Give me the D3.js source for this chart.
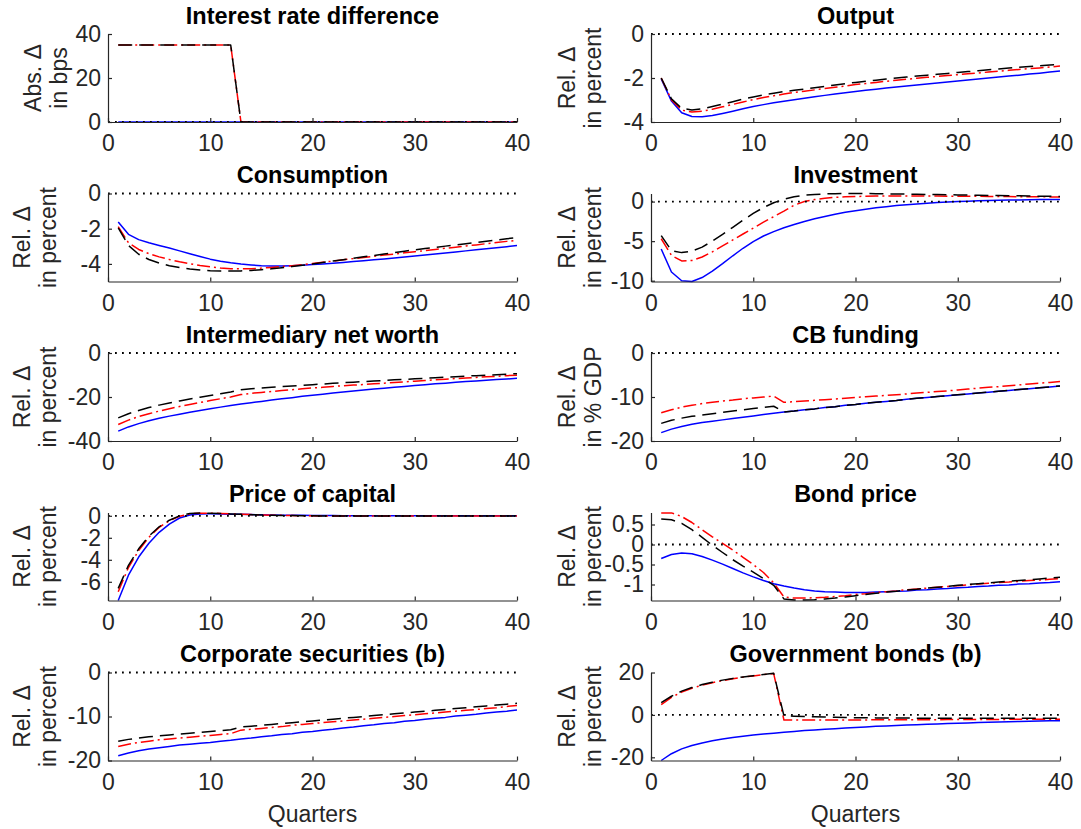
<!DOCTYPE html>
<html>
<head>
<meta charset="utf-8">
<script src="https://cdn.jsdelivr.net/npm/d3@7"></script>
<style>
  body { margin: 0; background: #fff; }
  svg text { font-family: "Liberation Sans", Arial, Helvetica, sans-serif; }
</style>
</head>
<body>
<svg id="fig" width="1081" height="829"></svg>
<script>
// ---- data -------------------------------------------------------------
const quarters = [1,2,3,4,5,6,7,8,9,10,11,12,13,14,15,16,17,18,19,20,
                  21,22,23,24,25,26,27,28,29,30,31,32,33,34,35,36,37,38,39,40];

const titles = ["Interest rate difference", "Output", "Consumption", "Investment",
                "Intermediary net worth", "CB funding", "Price of capital", "Bond price",
                "Corporate securities (b)", "Government bonds (b)"];

const yLabels = [["Abs. \u0394", "in bps"], ["Rel. \u0394", "in percent"],
                 ["Rel. \u0394", "in percent"], ["Rel. \u0394", "in percent"],
                 ["Rel. \u0394", "in percent"], ["Rel. \u0394", "in % GDP"],
                 ["Rel. \u0394", "in percent"], ["Rel. \u0394", "in percent"],
                 ["Rel. \u0394", "in percent"], ["Rel. \u0394", "in percent"]];

const yLimits = [[0, 40], [-4, 0], [-5, 0], [-10.1, 1.02], [-40, 0],
                 [-20, 0], [-7.7, 0.3], [-1.4, 0.8], [-20, 0], [-21.5, 20]];

const yTickValues = [[0, 20, 40], [-4, -2, 0], [-4, -2, 0], [-10, -5, 0], [-40, -20, 0],
                     [-20, -10, 0], [-6, -4, -2, 0], [-1, -0.5, 0, 0.5], [-20, -10, 0], [-20, 0, 20]];

const xTickValues = [0, 10, 20, 30, 40];
const xLabel = "Quarters";

// interest rate difference
const rateSolid = [0,0,0,0,0,0,0,0,0,0, 0,0,0,0,0,0,0,0,0,0, 0,0,0,0,0,0,0,0,0,0, 0,0,0,0,0,0,0,0,0,0];
const rateDashed = [35,35,35,35,35,35,35,35,35,35, 35,35,0,0,0,0,0,0,0,0, 0,0,0,0,0,0,0,0,0,0, 0,0,0,0,0,0,0,0,0,0];
const rateDashDot = [35,35,35,35,35,35,35,35,35,35, 35,35,0,0,0,0,0,0,0,0, 0,0,0,0,0,0,0,0,0,0, 0,0,0,0,0,0,0,0,0,0];

// output
const outputSolid = [-2.04,-3.05,-3.58,-3.75,-3.76,-3.70,-3.61,-3.51,-3.40,-3.30, -3.21,-3.13,-3.06,-2.99,-2.92,-2.85,-2.79,-2.73,-2.67,-2.61, -2.56,-2.51,-2.46,-2.41,-2.36,-2.32,-2.27,-2.23,-2.18,-2.14, -2.09,-2.05,-2.00,-1.96,-1.91,-1.87,-1.82,-1.78,-1.73,-1.68];
const outputDashed = [-2.00,-2.95,-3.38,-3.45,-3.40,-3.30,-3.19,-3.08,-2.96,-2.86, -2.77,-2.69,-2.62,-2.56,-2.50,-2.44,-2.38,-2.32,-2.26,-2.20, -2.15,-2.10,-2.05,-2.00,-1.96,-1.91,-1.87,-1.83,-1.79,-1.75, -1.71,-1.67,-1.63,-1.59,-1.55,-1.51,-1.48,-1.44,-1.41,-1.37];
const outputDashDot = [-2.00,-3.00,-3.46,-3.55,-3.51,-3.42,-3.31,-3.20,-3.09,-2.98, -2.89,-2.81,-2.73,-2.66,-2.60,-2.54,-2.48,-2.42,-2.36,-2.30, -2.25,-2.20,-2.15,-2.10,-2.06,-2.01,-1.97,-1.93,-1.89,-1.85, -1.81,-1.77,-1.73,-1.69,-1.65,-1.61,-1.57,-1.54,-1.50,-1.46];

// consumption
const consumptionSolid = [-1.62,-2.32,-2.62,-2.80,-2.95,-3.10,-3.26,-3.42,-3.58,-3.73, -3.85,-3.94,-4.01,-4.06,-4.10,-4.12,-4.12,-4.10,-4.07,-4.04, -4.00,-3.96,-3.92,-3.87,-3.82,-3.77,-3.72,-3.67,-3.61,-3.55, -3.50,-3.44,-3.38,-3.32,-3.26,-3.20,-3.14,-3.08,-3.02,-2.96];
const consumptionDashed = [-1.95,-2.95,-3.45,-3.75,-3.95,-4.10,-4.21,-4.29,-4.35,-4.39, -4.41,-4.41,-4.40,-4.37,-4.33,-4.28,-4.22,-4.15,-4.08,-4.01, -3.92,-3.84,-3.76,-3.68,-3.60,-3.52,-3.44,-3.36,-3.28,-3.20, -3.13,-3.06,-2.99,-2.92,-2.85,-2.78,-2.71,-2.64,-2.57,-2.51];
const consumptionDashDot = [-1.88,-2.80,-3.18,-3.42,-3.60,-3.75,-3.88,-3.99,-4.09,-4.17, -4.23,-4.27,-4.28,-4.27,-4.24,-4.20,-4.15,-4.10,-4.04,-3.98, -3.91,-3.84,-3.77,-3.70,-3.64,-3.57,-3.50,-3.44,-3.37,-3.31, -3.24,-3.18,-3.11,-3.05,-2.98,-2.92,-2.85,-2.79,-2.72,-2.66];

// investment
const investmentSolid = [-6.0,-8.9,-10.0,-10.1,-9.6,-8.8,-7.85,-6.85,-5.9,-5.05, -4.35,-3.8,-3.3,-2.9,-2.52,-2.18,-1.88,-1.6,-1.36,-1.15, -0.96,-0.79,-0.64,-0.51,-0.40,-0.30,-0.21,-0.13,-0.06,0.0, 0.05,0.09,0.13,0.16,0.19,0.21,0.23,0.25,0.26,0.27];
const investmentDashed = [-4.3,-6.2,-6.45,-6.25,-5.75,-5.0,-4.15,-3.25,-2.35,-1.5, -0.75,-0.15,0.3,0.6,0.8,0.9,0.97,1.0,1.01,1.02, 1.01,1.0,0.98,0.96,0.94,0.92,0.9,0.88,0.86,0.84, 0.82,0.8,0.78,0.76,0.74,0.72,0.7,0.68,0.66,0.64];
const investmentDashDot = [-4.7,-6.8,-7.5,-7.45,-7.0,-6.35,-5.6,-4.85,-4.1,-3.35, -2.6,-1.9,-1.2,-0.45,0.0,0.25,0.42,0.53,0.6,0.64, 0.67,0.69,0.7,0.7,0.7,0.7,0.69,0.69,0.68,0.67, 0.66,0.66,0.65,0.64,0.63,0.62,0.61,0.6,0.59,0.58];

// intermediary net worth
const netWorthSolid = [-35.5,-33.6,-32.1,-30.8,-29.7,-28.7,-27.8,-26.9,-26.1,-25.3, -24.6,-23.9,-23.2,-22.6,-22.0,-21.4,-20.8,-20.3,-19.7,-19.2, -18.7,-18.2,-17.7,-17.3,-16.8,-16.4,-16.0,-15.6,-15.2,-14.8, -14.4,-14.0,-13.7,-13.3,-13.0,-12.7,-12.4,-12.1,-11.8,-11.5];
const netWorthDashed = [-29.5,-27.6,-26.1,-24.8,-23.7,-22.7,-21.8,-20.9,-20.1,-19.3, -18.5,-17.7,-16.7,-16.2,-15.9,-15.6,-15.3,-15.0,-14.7,-14.4, -14.1,-13.8,-13.5,-13.3,-13.0,-12.7,-12.5,-12.2,-12.0,-11.7, -11.5,-11.2,-11.0,-10.8,-10.5,-10.3,-10.1,-9.9,-9.6,-9.4];
const netWorthDashDot = [-32.5,-30.5,-28.9,-27.6,-26.4,-25.3,-24.3,-23.4,-22.5,-21.6, -20.8,-20.0,-18.9,-18.3,-17.9,-17.5,-17.1,-16.7,-16.3,-15.9, -15.6,-15.2,-14.9,-14.6,-14.3,-14.0,-13.7,-13.4,-13.1,-12.8, -12.5,-12.2,-11.9,-11.6,-11.4,-11.1,-10.8,-10.6,-10.3,-10.1];

// central bank funding
const cbFundingSolid = [-18.1,-17.3,-16.7,-16.2,-15.8,-15.5,-15.2,-14.9,-14.6,-14.3, -14.0,-13.7,-13.4,-13.2,-12.9,-12.7,-12.4,-12.2,-11.9,-11.7, -11.4,-11.2,-11.0,-10.8,-10.5,-10.3,-10.1,-9.9,-9.7,-9.5, -9.3,-9.1,-8.9,-8.7,-8.5,-8.3,-8.1,-7.9,-7.7,-7.5];
const cbFundingDashed = [-16.0,-15.3,-14.8,-14.4,-14.1,-13.8,-13.5,-13.2,-12.9,-12.6, -12.35,-12.1,-13.4,-13.2,-12.9,-12.7,-12.4,-12.2,-11.9,-11.7, -11.4,-11.2,-11.0,-10.8,-10.5,-10.3,-10.1,-9.9,-9.7,-9.5, -9.3,-9.1,-8.9,-8.7,-8.5,-8.3,-8.1,-7.9,-7.7,-7.5];
const cbFundingDashDot = [-13.6,-12.9,-12.3,-11.9,-11.5,-11.2,-10.9,-10.7,-10.4,-10.2, -10.0,-9.8,-11.2,-11.05,-10.9,-10.75,-10.6,-10.45,-10.3,-10.1, -9.95,-9.8,-9.65,-9.5,-9.3,-9.1,-8.95,-8.75,-8.6,-8.4, -8.2,-8.0,-7.8,-7.65,-7.45,-7.25,-7.05,-6.85,-6.7,-6.5];

// price of capital
const capitalPriceSolid = [-7.7,-5.4,-3.75,-2.5,-1.5,-0.75,-0.2,0.08,0.17,0.18, 0.17,0.15,0.13,0.11,0.09,0.07,0.06,0.05,0.04,0.03, 0.02,0.02,0.01,0.01,0.01,0.0,0.0,0.0,0.0,0.0, 0.0,0.0,0.0,0.0,0.0,0.0,0.0,0.0,0.0,0.0];
const capitalPriceDashed = [-6.6,-4.5,-3.0,-1.85,-1.0,-0.4,0.0,0.2,0.25,0.24, 0.21,0.17,0.13,0.1,0.07,0.05,0.03,0.02,0.01,0.0, -0.01,-0.02,-0.02,-0.02,-0.02,-0.02,-0.02,-0.02,-0.02,-0.02, -0.02,-0.02,-0.01,-0.01,-0.01,-0.01,-0.01,-0.01,-0.01,-0.01];
const capitalPriceDashDot = [-6.9,-4.7,-3.15,-1.95,-1.05,-0.45,-0.05,0.17,0.24,0.24, 0.21,0.18,0.14,0.11,0.08,0.06,0.04,0.02,0.01,0.0, -0.01,-0.01,-0.02,-0.02,-0.02,-0.02,-0.02,-0.02,-0.02,-0.02, -0.02,-0.02,-0.02,-0.01,-0.01,-0.01,-0.01,-0.01,-0.01,-0.01];

// bond price
const bondPriceSolid = [-0.35,-0.25,-0.21,-0.23,-0.30,-0.39,-0.49,-0.60,-0.71,-0.81, -0.90,-0.98,-1.04,-1.09,-1.13,-1.16,-1.18,-1.19,-1.20,-1.20, -1.20,-1.19,-1.18,-1.17,-1.16,-1.14,-1.13,-1.11,-1.10,-1.08, -1.07,-1.05,-1.04,-1.02,-1.01,-0.99,-0.98,-0.96,-0.95,-0.93];
const bondPriceDashed = [0.64,0.62,0.53,0.37,0.18,-0.02,-0.20,-0.38,-0.54,-0.69, -0.85,-1.02,-1.36,-1.39,-1.39,-1.38,-1.36,-1.34,-1.31,-1.28, -1.25,-1.22,-1.19,-1.17,-1.14,-1.12,-1.09,-1.07,-1.05,-1.02, -1.00,-0.98,-0.96,-0.94,-0.92,-0.90,-0.88,-0.86,-0.84,-0.82];
const bondPriceDashDot = [0.79,0.79,0.70,0.55,0.37,0.19,0.03,-0.14,-0.32,-0.50, -0.70,-0.96,-1.31,-1.34,-1.34,-1.33,-1.32,-1.30,-1.28,-1.25, -1.23,-1.20,-1.18,-1.16,-1.13,-1.11,-1.09,-1.07,-1.05,-1.03, -1.01,-0.99,-0.97,-0.95,-0.94,-0.92,-0.90,-0.89,-0.87,-0.85];

// corporate securities held by banks
const corpSecSolid = [-18.9,-18.3,-17.8,-17.4,-17.1,-16.8,-16.5,-16.3,-16.1,-15.9, -15.6,-15.4,-15.1,-14.9,-14.6,-14.4,-14.1,-13.9,-13.6,-13.4, -13.1,-12.9,-12.6,-12.4,-12.1,-11.9,-11.6,-11.4,-11.1,-10.9, -10.6,-10.4,-10.2,-9.9,-9.7,-9.5,-9.2,-9.0,-8.8,-8.5];
const corpSecDashed = [-15.6,-15.2,-14.9,-14.6,-14.4,-14.2,-14.0,-13.8,-13.6,-13.4, -13.2,-13.0,-12.4,-12.2,-12.0,-11.8,-11.6,-11.4,-11.2,-11.0, -10.8,-10.6,-10.4,-10.2,-10.0,-9.8,-9.6,-9.4,-9.2,-9.0, -8.8,-8.6,-8.4,-8.2,-8.0,-7.8,-7.6,-7.4,-7.2,-7.0];
const corpSecDashDot = [-16.8,-16.3,-15.9,-15.6,-15.3,-15.1,-14.9,-14.7,-14.5,-14.3, -14.1,-13.9,-13.1,-12.9,-12.7,-12.5,-12.3,-12.0,-11.8,-11.6, -11.4,-11.2,-11.0,-10.8,-10.6,-10.4,-10.2,-10.0,-9.8,-9.6, -9.4,-9.2,-9.0,-8.8,-8.6,-8.4,-8.2,-8.0,-7.7,-7.5];

// government bonds held by banks
const govBondsSolid = [-21.5,-18.3,-16.0,-14.4,-13.2,-12.2,-11.4,-10.7,-10.1,-9.5, -9.0,-8.6,-8.2,-7.8,-7.4,-7.1,-6.8,-6.5,-6.2,-5.9, -5.7,-5.4,-5.2,-5.0,-4.8,-4.6,-4.4,-4.3,-4.1,-3.9, -3.8,-3.6,-3.5,-3.4,-3.2,-3.1,-3.0,-2.9,-2.8,-2.7];
const govBondsDashed = [5.8,8.8,11.2,12.9,14.3,15.4,16.4,17.2,17.9,18.5, 19.1,19.6,-0.4,-0.6,-0.8,-0.9,-1.0,-1.1,-1.2,-1.3, -1.35,-1.4,-1.45,-1.5,-1.5,-1.55,-1.55,-1.6,-1.6,-1.6, -1.6,-1.6,-1.6,-1.6,-1.6,-1.6,-1.6,-1.6,-1.6,-1.6];
const govBondsDashDot = [4.9,8.3,10.8,12.6,14.0,15.2,16.2,17.0,17.8,18.4, 19.0,19.5,-2.4,-2.4,-2.4,-2.4,-2.4,-2.4,-2.35,-2.35, -2.35,-2.3,-2.3,-2.3,-2.3,-2.25,-2.25,-2.25,-2.2,-2.2, -2.2,-2.15,-2.15,-2.15,-2.1,-2.1,-2.1,-2.05,-2.05,-2.0];

const panelSeries = [
  [rateSolid, rateDashed, rateDashDot],
  [outputSolid, outputDashed, outputDashDot],
  [consumptionSolid, consumptionDashed, consumptionDashDot],
  [investmentSolid, investmentDashed, investmentDashDot],
  [netWorthSolid, netWorthDashed, netWorthDashDot],
  [cbFundingSolid, cbFundingDashed, cbFundingDashDot],
  [capitalPriceSolid, capitalPriceDashed, capitalPriceDashDot],
  [bondPriceSolid, bondPriceDashed, bondPriceDashDot],
  [corpSecSolid, corpSecDashed, corpSecDashDot],
  [govBondsSolid, govBondsDashed, govBondsDashDot]
];

// ---- layout & style ---------------------------------------------------
const colLeft = [108, 651];
const plotW = 409;
const rowBottom = [122, 281.5, 441, 600.5, 760.5];
const plotH = 88;
// distance from the y axis to the baseline of the second y-label line
const yLabelOffset = [41, 50, 52, 50, 52, 50, 52, 50, 52, 50];
const yLabelGap = 26;

const axisColor = "#262626";
const tickFont = 23;
const titleFont = 23.5;

// solid blue, dashed black, dash-dot red
const lineStyles = [
  { color: "#0000ff", dash: null },
  { color: "#000000", dash: "14,7" },
  { color: "#ff0000", dash: "13,4,2,4" }
];
const drawOrder = [0, 2, 1];

const svg = d3.select("#fig");

titles.forEach((title, i) => {
  const col = i % 2, row = Math.floor(i / 2);
  const x0 = colLeft[col], yb = rowBottom[row], yt = yb - plotH;

  const x = d3.scaleLinear().domain([0, 40]).range([x0, x0 + plotW]);
  const y = d3.scaleLinear().domain(yLimits[i]).range([yb, yt]);

  const g = svg.append("g");

  // data lines
  const line = d3.line().x((d, k) => x(quarters[k])).y(d => y(d));
  drawOrder.forEach(s => {
    const st = lineStyles[s];
    g.append("path")
      .datum(panelSeries[i][s])
      .attr("d", line)
      .attr("fill", "none")
      .attr("stroke", st.color)
      .attr("stroke-width", 1.5)
      .attr("stroke-dasharray", st.dash)
      .attr("stroke-linejoin", "round");
  });

  // dotted zero reference line
  g.append("line")
    .attr("x1", x(0)).attr("x2", x(40))
    .attr("y1", y(0)).attr("y2", y(0))
    .attr("stroke", "#000")
    .attr("stroke-width", 1.8)
    .attr("stroke-dasharray", "1.8,5.2");

  // x axis
  const gx = g.append("g")
    .attr("transform", `translate(0,${yb})`)
    .call(d3.axisBottom(x).tickValues(xTickValues)
      .tickSizeInner(-4).tickSizeOuter(0).tickPadding(13)
      .tickFormat(d => String(d)));

  // y axis
  const gy = g.append("g")
    .attr("transform", `translate(${x0},0)`)
    .call(d3.axisLeft(y).tickValues(yTickValues[i])
      .tickSizeInner(-4).tickSizeOuter(0).tickPadding(7)
      .tickFormat(d => String(d)));

  [gx, gy].forEach(ax => {
    ax.select(".domain").attr("stroke", axisColor).attr("stroke-width", 1.2);
    ax.selectAll(".tick line").attr("stroke", axisColor).attr("stroke-width", 1.2);
    ax.selectAll(".tick text")
      .attr("fill", axisColor)
      .style("font-size", tickFont + "px")
      .style("font-family", '"Liberation Sans", Arial, sans-serif');
  });

  // two-line y label, reading upward
  const ylab = g.append("text")
    .attr("transform", `translate(${x0 - yLabelOffset[i]},${(yt + yb) / 2}) rotate(-90)`)
    .attr("text-anchor", "middle")
    .attr("fill", axisColor)
    .style("font-size", tickFont + "px");
  ylab.append("tspan").attr("x", 0).attr("y", -yLabelGap).text(yLabels[i][0]);
  ylab.append("tspan").attr("x", 0).attr("y", 0).text(yLabels[i][1]);

  // title
  g.append("text")
    .attr("x", x0 + plotW / 2)
    .attr("y", yt - 10.5)
    .attr("text-anchor", "middle")
    .attr("fill", "#000")
    .style("font-size", titleFont + "px")
    .style("font-weight", "bold")
    .text(title);

  // x label on the bottom row
  if (row === 4) {
    g.append("text")
      .attr("x", x0 + plotW / 2)
      .attr("y", yb + 61)
      .attr("text-anchor", "middle")
      .attr("fill", axisColor)
      .style("font-size", tickFont + "px")
      .text(xLabel);
  }
});
</script>
</body>
</html>
